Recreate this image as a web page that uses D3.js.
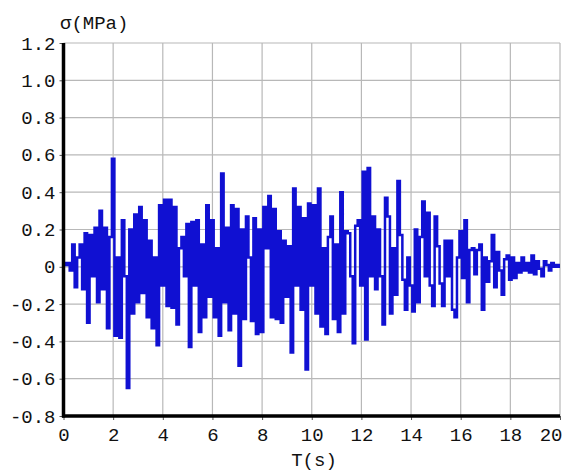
<!DOCTYPE html>
<html><head><meta charset="utf-8">
<script src="https://cdn.jsdelivr.net/npm/d3@7"></script>
<style>body{margin:0;background:#fff}svg{display:block}</style>
</head><body>
<script>
// time step 0.1 s, t = 0 .. 20
const dt = 0.1;
const stress = [
 0.02,0.01,0.02,-0.02,0.12,-0.11,0.05,0.12,-0.12,0.18,
 -0.30,0.17,-0.05,0.21,-0.19,0.30,-0.12,0.21,-0.33,0.16,
 0.58,-0.37,0.05,-0.38,0.25,-0.05,-0.65,0.20,-0.25,0.28,
 -0.19,0.32,-0.14,0.25,-0.27,0.14,-0.33,0.05,-0.42,0.33,
 -0.10,0.36,-0.21,0.36,-0.22,0.32,-0.31,0.10,0.16,-0.05,
 0.23,-0.43,0.24,-0.10,0.25,-0.35,0.12,-0.27,0.33,-0.16,
 0.25,-0.27,0.10,-0.37,0.50,-0.19,0.21,-0.34,0.33,-0.25,
 0.31,-0.53,0.20,-0.28,0.27,0.05,-0.29,0.26,-0.36,0.20,
 -0.35,0.32,0.10,0.38,-0.27,0.31,-0.28,0.19,-0.30,0.14,
 -0.16,0.11,-0.46,0.42,-0.10,0.32,-0.23,0.26,-0.55,0.34,
 -0.10,0.33,-0.25,0.42,-0.32,0.10,-0.36,0.16,0.27,-0.28,
 0.12,-0.35,0.40,-0.25,0.19,0.18,-0.05,-0.41,0.22,0.25,
 -0.10,0.51,-0.39,0.53,-0.05,0.27,-0.12,0.20,-0.05,-0.31,
 0.37,0.27,-0.25,0.10,-0.15,0.46,0.17,-0.07,-0.23,0.05,
 -0.10,-0.24,0.20,-0.19,0.16,0.35,-0.05,0.29,-0.10,-0.21,
 0.27,0.11,-0.09,-0.21,0.14,-0.05,0.14,-0.23,-0.27,0.05,
 0.19,-0.06,0.25,-0.19,0.09,0.10,-0.04,0.09,0.12,-0.23,
 0.05,-0.08,0.03,0.17,-0.11,0.08,-0.02,-0.15,0.04,0.06,
 -0.07,0.05,-0.06,0.02,-0.03,0.05,-0.02,0.02,-0.03,0.06,
 -0.04,0.03,-0.01,-0.05,0.03,0.01,-0.02,0.02,0.00,0.01,
 0.00
];
const xTicks = [0,2,4,6,8,10,12,14,16,18,20];
const yTicks = [-0.8,-0.6,-0.4,-0.2,0,0.2,0.4,0.6,0.8,1.0,1.2];
const yTickLabels = ["-0.8","-0.6","-0.4","-0.2","0","0.2","0.4","0.6","0.8","1.0","1.2"];
const xTitle = "T(s)";
const yTitle = "σ(MPa)";

const W = 563, H = 473;
const svg = d3.select("body").append("svg").attr("width", W).attr("height", H);
const x = d3.scaleLinear().domain([0, 20]).range([63.5, 560]);
const y = d3.scaleLinear().domain([-0.8, 1.2]).range([416, 43]);
const font = "'Liberation Mono', 'DejaVu Sans Mono', monospace";

// grid
svg.append("g").selectAll("line").data(xTicks).join("line")
  .attr("x1", d => x(d)).attr("x2", d => x(d)).attr("y1", y(1.2)).attr("y2", y(-0.8))
  .attr("stroke", "#b8b8b8").attr("stroke-width", 1.2);
svg.append("g").selectAll("line").data(yTicks).join("line")
  .attr("x1", x(0)).attr("x2", x(20)).attr("y1", d => y(d)).attr("y2", d => y(d))
  .attr("stroke", "#b8b8b8").attr("stroke-width", 1.2);

// signal
const data = stress.map((v, i) => [i * dt, v]);
const line = d3.line().x(d => x(d[0])).y(d => y(d[1])).curve(d3.curveStep);
svg.append("path").datum(data).attr("d", line)
  .attr("fill", "none").attr("stroke", "#1010d2").attr("stroke-width", 2.5)
  .attr("stroke-linejoin", "miter");

// axes
const yAxis = d3.axisLeft(y).tickValues(yTicks).tickSize(4).tickFormat((d, i) => yTickLabels[i]);
const gy = svg.append("g").attr("transform", `translate(${x(0)},0)`).call(yAxis);
gy.select(".domain").remove();
gy.selectAll("text").attr("font-family", font).attr("font-size", 19).attr("fill", "#111").attr("x", -8);
gy.selectAll("line").attr("stroke", "#555");

const xAxis = d3.axisBottom(x).tickValues(xTicks).tickSize(4).tickFormat(d3.format("d"));
const gx = svg.append("g").attr("transform", `translate(0,${y(-0.8)})`).call(xAxis);
gx.select(".domain").remove();
gx.selectAll("text").attr("font-family", font).attr("font-size", 19).attr("fill", "#111").attr("dy", "0.95em");
gx.selectAll("line").attr("stroke", "#555");
gx.selectAll(".tick").filter(d => d === 20).select("text").attr("text-anchor", "end").attr("x", 2);

svg.append("line").attr("x1", x(0)).attr("x2", x(0)).attr("y1", y(1.2)).attr("y2", y(-0.8) + 1.5)
  .attr("stroke", "#000").attr("stroke-width", 3.5);
svg.append("line").attr("x1", x(0) - 1.5).attr("x2", x(20)).attr("y1", y(-0.8)).attr("y2", y(-0.8))
  .attr("stroke", "#000").attr("stroke-width", 3.5);

svg.append("text").attr("x", 60).attr("y", 29).attr("font-family", font).attr("font-size", 19)
  .attr("fill", "#111").text(yTitle);
svg.append("text").attr("x", 314).attr("y", 466).attr("text-anchor", "middle").attr("font-family", font)
  .attr("font-size", 19).attr("fill", "#111").text(xTitle);
</script>
</body></html>
